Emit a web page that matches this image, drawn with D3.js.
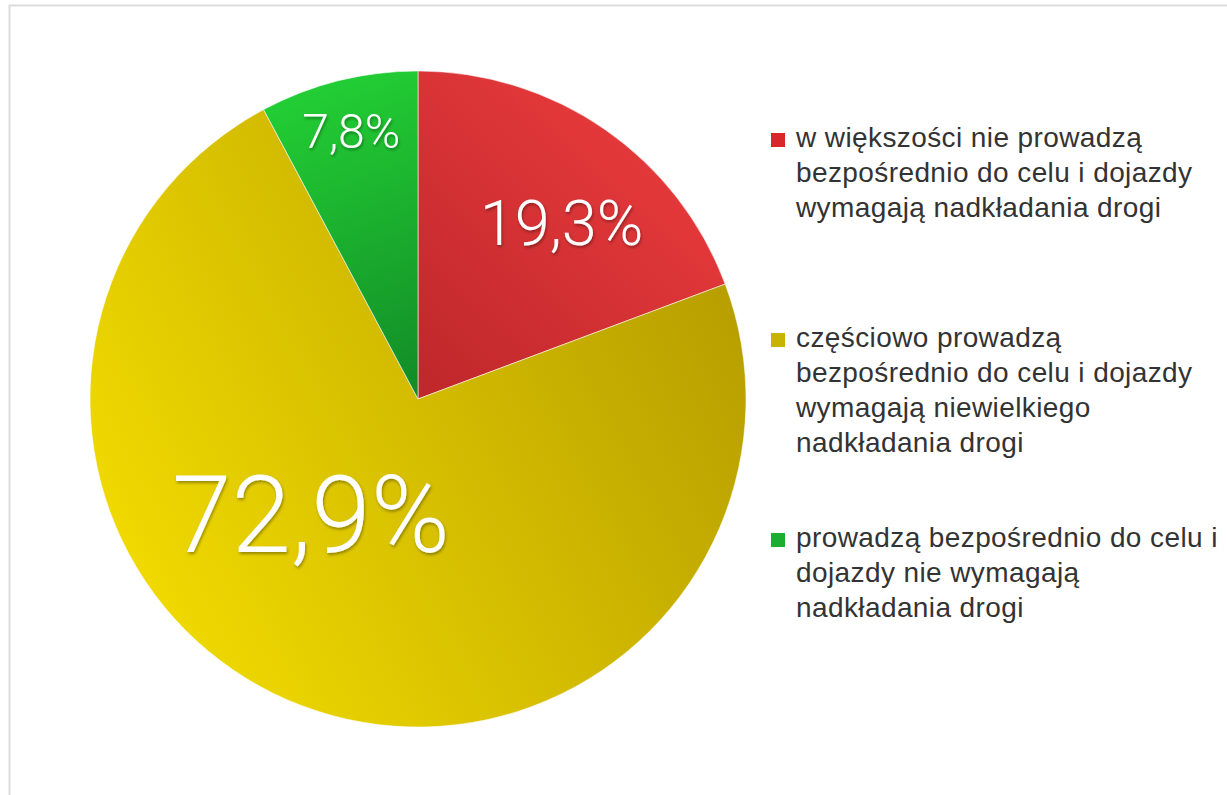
<!DOCTYPE html>
<html>
<head>
<meta charset="utf-8">
<script src="https://cdn.jsdelivr.net/npm/d3@7"></script>
<style>
  html, body { margin: 0; padding: 0; background: #fff; }
  svg { display: block; }
</style>
</head>
<body>
<svg id="chart"></svg>
<script>
// data
const categories = [
  "w większości nie prowadzą bezpośrednio do celu i dojazdy wymagają nadkładania drogi",
  "częściowo prowadzą bezpośrednio do celu i dojazdy wymagają niewielkiego nadkładania drogi",
  "prowadzą bezpośrednio do celu i dojazdy nie wymagają nadkładania drogi"
]
const values = [19.3, 72.9, 7.8]
const valueLabels = ["19,3%", "72,9%", "7,8%"]
const legendLines = [
  ["w większości nie prowadzą", "bezpośrednio do celu i dojazdy", "wymagają nadkładania drogi"],
  ["częściowo prowadzą", "bezpośrednio do celu i dojazdy", "wymagają niewielkiego", "nadkładania drogi"],
  ["prowadzą bezpośrednio do celu i", "dojazdy nie wymagają", "nadkładania drogi"]
]

// styling / layout
const colors = [
  { light: "#ec3c3e", dark: "#c0282b", swatch: "#d8262b" },
  { light: "#f0da00", dark: "#b9a000", swatch: "#c8b400" },
  { light: "#22cc34", dark: "#128c27", swatch: "#1cae30" }
]
// gradient direction per slice (light end -> dark end), relative to pie centre
const gradDir = [
  { x1: 280, y1: -290, x2: 20, y2: -10 },
  { x1: -250, y1: 250, x2: 320, y2: -60 },
  { x1: -110, y1: -300, x2: 0, y2: -10 }
]
// label placement: polar (deg clockwise from 12 o'clock, radius) and font size
const labelLayout = [
  { angle: 39, r: 228, size: 63 },
  { angle: 223, r: 157, size: 107 },
  { angle: 346, r: 276, size: 48 }
]

const W = 1227, H = 795
const cx = 418, cy = 399, radius = 328

const svg = d3.select("#chart").attr("width", W).attr("height", H)

// thin frame on the left / top
svg.append("path")
  .attr("d", `M9.5,${H} L9.5,5.5 L${W},5.5`)
  .attr("fill", "none")
  .attr("stroke", "#dcdcdc")
  .attr("stroke-width", 2)

const defs = svg.append("defs")
colors.forEach((c, i) => {
  let g = gradDir[i]
  let grad = defs.append("linearGradient")
    .attr("id", "grad" + i)
    .attr("gradientUnits", "userSpaceOnUse")
    .attr("x1", g.x1).attr("y1", g.y1)
    .attr("x2", g.x2).attr("y2", g.y2)
  grad.append("stop").attr("offset", "0%").attr("stop-color", c.light)
  grad.append("stop").attr("offset", "100%").attr("stop-color", c.dark)
})

const shadow = defs.append("filter").attr("id", "shadow")
  .attr("x", "-20%").attr("y", "-20%").attr("width", "140%").attr("height", "140%")
shadow.append("feDropShadow")
  .attr("dx", 1).attr("dy", 2).attr("stdDeviation", 1.5)
  .attr("flood-color", "#000").attr("flood-opacity", 0.35)

const pie = d3.pie().sort(null).value(d => d)
const arcs = pie(values)
const arc = d3.arc().innerRadius(0).outerRadius(radius)

const gPie = svg.append("g").attr("transform", `translate(${cx},${cy})`)

gPie.selectAll("path.slice")
  .data(arcs)
  .enter().append("path")
    .attr("class", "slice")
    .attr("d", arc)
    .attr("fill", (d, i) => `url(#grad${i})`)
    .attr("stroke", "rgba(255,255,255,0.55)")
    .attr("stroke-width", 1)

gPie.selectAll("text.val")
  .data(arcs)
  .enter().append("text")
    .attr("class", "val")
    .attr("x", (d, i) => labelLayout[i].r * Math.sin(labelLayout[i].angle * Math.PI / 180))
    .attr("y", (d, i) => -labelLayout[i].r * Math.cos(labelLayout[i].angle * Math.PI / 180))
    .attr("dy", "0.36em")
    .attr("text-anchor", "middle")
    .attr("font-family", "Roboto, 'Liberation Sans', sans-serif")
    .attr("font-weight", 300)
    .attr("font-size", (d, i) => labelLayout[i].size)
    .attr("fill", "#fff")
    .attr("filter", "url(#shadow)")
    .text((d, i) => valueLabels[i])

// legend
const legendX = 771, legendY = 147, itemGap = 200, lineH = 35
const legend = svg.append("g")
const items = legend.selectAll("g.item")
  .data(categories)
  .enter().append("g")
    .attr("class", "item")
    .attr("transform", (d, i) => `translate(${legendX},${legendY + i * itemGap})`)

items.append("rect")
  .attr("x", 0).attr("y", -14)
  .attr("width", 14).attr("height", 14)
  .attr("fill", (d, i) => colors[i].swatch)

items.append("text")
  .attr("x", 25)
  .attr("font-family", "'Liberation Sans', Arial, sans-serif")
  .attr("font-size", 28)
  .attr("letter-spacing", 0.4)
  .attr("fill", "#333")
  .selectAll("tspan")
  .data((d, i) => legendLines[i])
  .enter().append("tspan")
    .attr("x", 25)
    .attr("dy", (d, j) => j === 0 ? 0 : lineH)
    .text(d => d)
</script>
</body>
</html>
